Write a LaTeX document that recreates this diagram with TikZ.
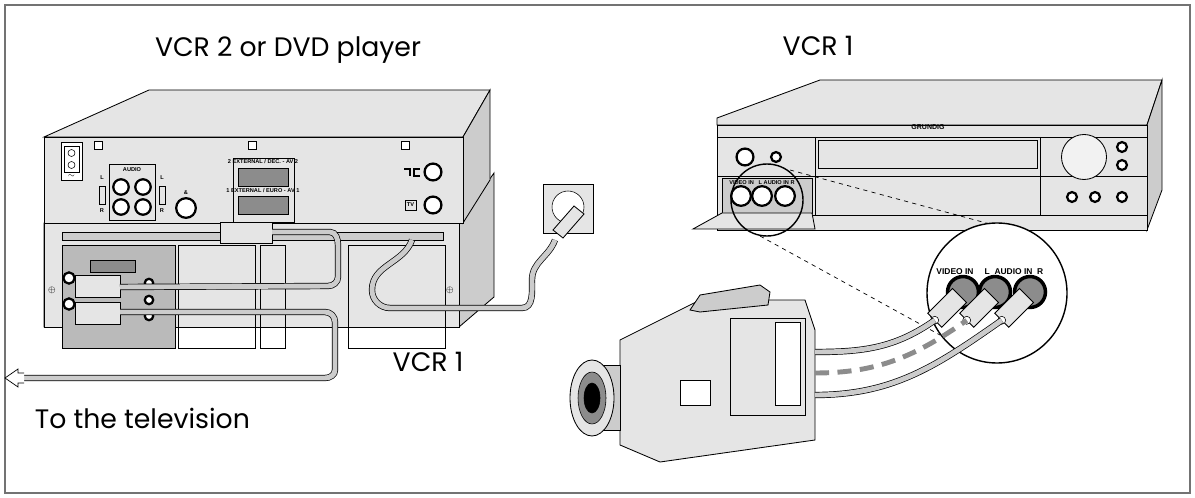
\documentclass[tikz,border=0pt]{standalone}
\usepackage{fontspec}
\setmainfont{Poppins}
\newfontfamily\labelfont{Liberation Sans}
\usetikzlibrary{calc,arrows.meta}
\definecolor{FrameClr}{rgb}{0.45,0.45,0.45}
\definecolor{BodyClr}{rgb}{0.90,0.90,0.90}
\definecolor{ShadeClr}{rgb}{0.80,0.80,0.80}
\definecolor{DarkClr}{rgb}{0.55,0.55,0.55}
\tikzset{
  dev/.style={draw=black,line width=0.6pt,fill=BodyClr},
  side/.style={draw=black,line width=0.6pt,fill=ShadeClr},
  cable/.style={draw=black,line width=0.5pt,double=ShadeClr,double distance=3.5pt},
  jack/.style={circle,draw=black,line width=1.6pt,fill=white,inner sep=0pt,minimum size=#1},
  title/.style={font=\fontsize{19}{22}\selectfont},
  tiny/.style={font=\labelfont\bfseries\fontsize{4}{5}\selectfont,inner sep=0pt},
  small/.style={font=\labelfont\bfseries\fontsize{6}{7}\selectfont,inner sep=0pt}
}
\begin{document}
\begin{tikzpicture}[x=0.025cm,y=-0.025cm]
\useasboundingbox (0,0) rectangle (1195,498);
\draw[FrameClr,line width=1.4pt] (5,5) rectangle (1190,493);

% texts
\node[title] (tDVD) at (288,50) {VCR 2 or DVD player};
\node[title] (tVCRa) at (818,46) {VCR 1};
\node[title] (tVCRb) at (428,362) {VCR 1};
\node[title,anchor=west] (tTV) at (30,418) {To the television};

% ---- left: VCR 2 on top of VCR 1
\draw[side] (44,223) -- (459,223) -- (494,173) -- (494,297) -- (459,327) -- (44,327) -- cycle;
\draw[dev] (44,223) rectangle (459,327);
\draw[dev] (44,137) -- (149,90) -- (490,90) -- (463,137) -- cycle;
\draw[side] (463,137) -- (490,90) -- (490,180) -- (463,223) -- cycle;
\draw[dev] (44,137) rectangle (463,223);
\foreach \x in {98,252,405} \draw[fill=white] (\x-4,141) rectangle (\x+4,149);
% power inlet
\draw[fill=white] (61,142) rectangle (82,180);
\draw (64,146) rectangle (79,172);
\foreach \y in {153,165} \draw (71.5,\y) circle (3.5);
\node[tiny] (sine) at (71.5,176) {$\sim$};
% audio block
\draw (109,164) rectangle (155,220);
\node[tiny] (aud) at (132,170) {AUDIO};
\foreach \x in {121,143} \foreach \y in {187,207} \node[jack=11pt] at (\x,\y) {};
\node[tiny] (aL) at (102,178) {L};
\node[tiny] (aR) at (102,211) {R};
\node[tiny] (aL2) at (162,178) {L};
\node[tiny] (aR2) at (162,211) {R};
\draw (99,186) rectangle (105,204);
\draw (159,186) rectangle (165,204);
\node[jack=14pt] (ant) at (186,208) {};
\node[tiny] at (186,193) {\&};
% scarts top
\draw (233,158) rectangle (294,222);
\node[tiny] at (263,162) {2 EXTERNAL / DEC. - AV 2};
\node[tiny] at (263,191) {1 EXTERNAL / EURO - AV 1};
\draw[fill=DarkClr] (238,168) rectangle (288,186);
\draw[fill=DarkClr] (238,196) rectangle (288,214);
\node[jack=12pt] (rfa) at (433,172) {};
\node[jack=12pt] (rfb) at (433,205) {};
\draw[line width=1pt] (404,169) -- (410,169) -- (410,176) (420,176) -- (414,176) -- (414,169) -- (420,169);
\draw (405,200) rectangle (416,210);
\node[tiny] at (410.5,205) {TV};
% lower unit details
\draw[fill=ShadeClr] (62,232) rectangle (443,240);
\draw[fill=DarkClr!60] (62,245) rectangle (175,348);
\draw (178,245) rectangle (255,348);
\draw (260,245) rectangle (285,348);
\draw (348,245) rectangle (445,348);
\foreach \x in {52,450} \node[tiny,font=\fontsize{6}{6}\selectfont] at (\x,290) {$\oplus$};
\draw[fill=DarkClr] (90,260) rectangle (135,272);
\foreach \y in {278,304} \node[jack=8pt] at (69,\y) {};
\foreach \y in {283,300,316} \node[jack=6pt] at (149,\y) {};
% scart plugs
\draw[dev] (220,222) rectangle (272,243);
\draw[dev] (75,275) rectangle (120,297);
\draw[dev] (75,302) rectangle (120,324);
\coordinate (plugA) at (272,232);
\coordinate (plugB) at (120,287);
\coordinate (plugC) at (120,312);
% cables
\draw[cable] (plugA) -- (330,232) to[out=0,in=90] (338,245) -- (338,277) to[out=270,in=0] (328,286) -- (plugB);
\draw[cable] (plugC) -- (325,312) to[out=0,in=90] (335,322) -- (335,370) to[out=270,in=0] (325,378) -- (22,378);
\draw[black,line width=0.5pt,fill=white] (24,373) -- (18,373) -- (18,369) -- (5,378) -- (18,387) -- (18,383) -- (24,383);
% mains socket and plug
\draw[dev] (543,184) rectangle (593,233);
\draw[fill=white] (568,207) circle (16);
\draw[dev] (553,230) -- (574,206) -- (584,214) -- (563,238) -- cycle;
\coordinate (mains) at (555,240);
\coordinate (vcrIn) at (412,240);
\draw[cable] (mains) to[out=250,in=90] (532,280) to[out=270,in=0] (522,308) -- (390,308) to[out=180,in=270] (372,290) to[out=90,in=250] (vcrIn);

% ---- right: VCR 1 front
\draw[dev] (717,118) -- (820,80) -- (1162,80) -- (1147,125) -- (717,125) -- cycle;
\draw[side] (1147,125) -- (1162,80) -- (1162,190) -- (1147,230) -- cycle;
\draw[dev] (717,125) rectangle (1147,230);
\node[tiny,font=\labelfont\bfseries\fontsize{5}{5}\selectfont] (brand) at (928,127) {GRUNDIG};
\draw (717,137) -- (1147,137);
\draw (717,176) -- (1147,176);
\draw (717,215) -- (1147,215);
\draw (815,137) -- (815,215);
\draw (1040,137) -- (1040,215);
\draw (818,140) rectangle (1037,168);
\draw[fill=ShadeClr] (722,178) rectangle (812,213);
\draw[dev] (693,229) -- (722,213) -- (812,213) -- (815,229) -- cycle;
\node[jack=12pt] (pwr) at (745,157) {};
\node[jack=7pt] (ejc) at (776,157) {};
\foreach \x in {741,762,785} \node[jack=14pt] at (\x,196) {};
\node[tiny] at (762,183) {VIDEO IN \; L AUDIO IN R};
\node[circle,draw,line width=0.6pt,minimum size=32pt,fill=white!90!gray] (knob) at (1084,157) {};
\foreach \y in {147,165} \node[jack=7pt] at (1122,\y) {};
\foreach \x in {1072,1095} \node[jack=7pt] at (\x,197) {};
\node[jack=7pt] at (1122,197) {};
% zoom circles
\draw[line width=1pt] (767,200) circle (36);
\draw[line width=1pt,fill=white] (997,293) circle (70);
\draw[dashed,line width=0.5pt] (790,170) -- (990,224);
\draw[dashed,line width=0.5pt] (760,236) -- (940,335);
\node[small] (vin) at (955,272) {VIDEO IN};
\node[small] (ain) at (1014,272) {L\; AUDIO IN\; R};
\foreach \x in {963,995,1030} \node[circle,draw=black,fill=DarkClr,line width=2.5pt,minimum size=22pt,inner sep=0pt] at (\x,292) {};
% rca plugs
\foreach \x/\n in {963/pV,995/pL,1030/pR} {
  \draw[dev] (\x+3.5,302.5) -- (\x-10.5,288.5) -- (\x-35.3,313.3) -- (\x-21.3,327.3) -- cycle;
  \draw[fill=white] (\x-28.3,320.3) circle (4);
  \coordinate (\n) at (\x-28.3,320.3);
}
% camcorder
\draw[dev] (620,340) -- (700,300) -- (805,300) -- (815,330) -- (815,440) -- (660,462) -- (620,445) -- cycle;
\draw[side] (690,310) -- (700,295) -- (760,285) -- (770,292) -- (768,305) -- (700,312) -- cycle;
\draw[dev] (730,318) rectangle (805,415);
\draw[fill=white] (775,322) rectangle (800,405);
\draw[fill=white] (680,380) rectangle (710,405);
\draw[side] (580,365) rectangle (620,430);
\draw[dev] (592,398) ellipse (22 and 38);
\draw[fill=DarkClr] (592,398) ellipse (14 and 26);
\draw[fill=black] (592,398) ellipse (8 and 15);
\coordinate (camA) at (815,352);
\coordinate (camB) at (815,373);
\coordinate (camC) at (815,395);
\draw[cable] (camA) to[out=0,in=215] (pV);
\draw[DarkClr,line width=3.5pt,dash pattern=on 10pt off 6pt] (camB) to[out=0,in=215] (pL);
\draw[cable] (camC) to[out=0,in=215] (pR);
\end{tikzpicture}
\end{document}
